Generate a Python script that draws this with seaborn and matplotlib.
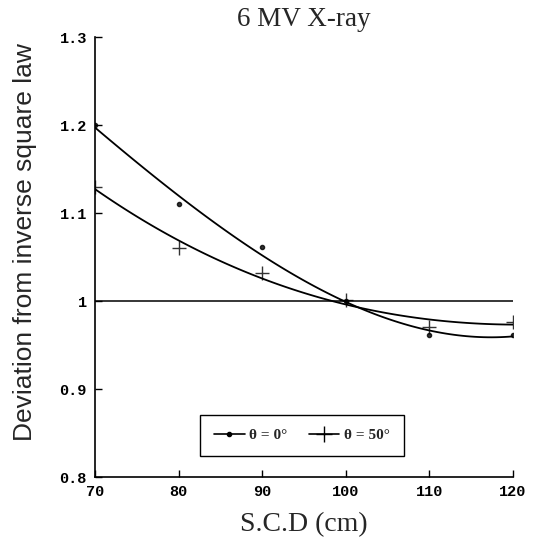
import matplotlib
matplotlib.use("Agg")
import matplotlib.pyplot as plt
from matplotlib.lines import Line2D
import seaborn as sns
import pandas as pd

# Data
scd = [70, 80, 90, 100, 110, 120]
dev_0 = [1.200, 1.110, 1.061, 1.000, 0.961, 0.962]
dev_50 = [1.130, 1.060, 1.032, 1.001, 0.971, 0.976]
label_0 = "θ = 0°"
label_50 = "θ = 50°"

df = pd.DataFrame({"scd": scd, "dev_0": dev_0, "dev_50": dev_50})

sns.set_style("ticks")
plt.rcParams["font.family"] = ["Liberation Serif", "DejaVu Serif"]

fig = plt.figure(figsize=(5.35, 5.39), dpi=100)
ax = fig.add_axes([0.178, 0.115, 0.781, 0.816])

# reference line at 1
ax.plot([70, 120], [1, 1], color="black", lw=1.1, zorder=1)

sns.regplot(data=df, x="scd", y="dev_0", order=3, ci=None, ax=ax,
            truncate=True, marker="o",
            scatter_kws={"s": 9, "color": "black", "zorder": 3},
            line_kws={"color": "black", "lw": 1.3})
sns.regplot(data=df, x="scd", y="dev_50", order=3, ci=None, ax=ax,
            truncate=True, marker="+",
            scatter_kws={"s": 110, "color": "black", "linewidths": 1.0, "zorder": 3},
            line_kws={"color": "black", "lw": 1.3})

ax.set_xlim(70, 120)
ax.set_ylim(0.8, 1.3)
ax.set_xticks([70, 80, 90, 100, 110, 120])
ax.set_yticks([0.8, 0.9, 1.0, 1.1, 1.2, 1.3])
ax.set_yticklabels(["0.8", "0.9", "1", "1.1", "1.2", "1.3"])
sns.despine(ax=ax)
for side in ["left", "bottom"]:
    ax.spines[side].set_linewidth(1.2)
    ax.spines[side].set_color("black")
ax.tick_params(axis="both", direction="in", length=5, width=1.0, colors="black",
               labelsize=11, pad=6)
for t in ax.get_xticklabels() + ax.get_yticklabels():
    t.set_fontweight("bold")
    t.set_family(["Liberation Mono", "DejaVu Sans Mono"])

ax.set_xlabel("S.C.D (cm)", fontsize=20, labelpad=9)
ax.set_ylabel("Deviation from inverse square law", fontsize=19,
              family=["Liberation Sans", "DejaVu Sans"])
ax.yaxis.set_label_coords(-0.14, 0.535)
ax.set_title("6 MV X-ray", fontsize=19.5, pad=8)

handles = [
    Line2D([], [], color="black", lw=1.2, marker="o", markersize=3),
    Line2D([], [], color="black", lw=1.2, marker="+", markersize=11, markeredgewidth=1.0),
]
leg = ax.legend(handles, [label_0, label_50], loc="lower center",
                bbox_to_anchor=(0.495, 0.03), ncol=2, frameon=True,
                fancybox=False, edgecolor="black", framealpha=1,
                prop={"weight": "bold", "size": 11},
                handlelength=2.0, handletextpad=0.3,
                columnspacing=1.4, borderpad=0.9)
leg.get_frame().set_linewidth(1.0)

fig.savefig("out.png", dpi=100)
